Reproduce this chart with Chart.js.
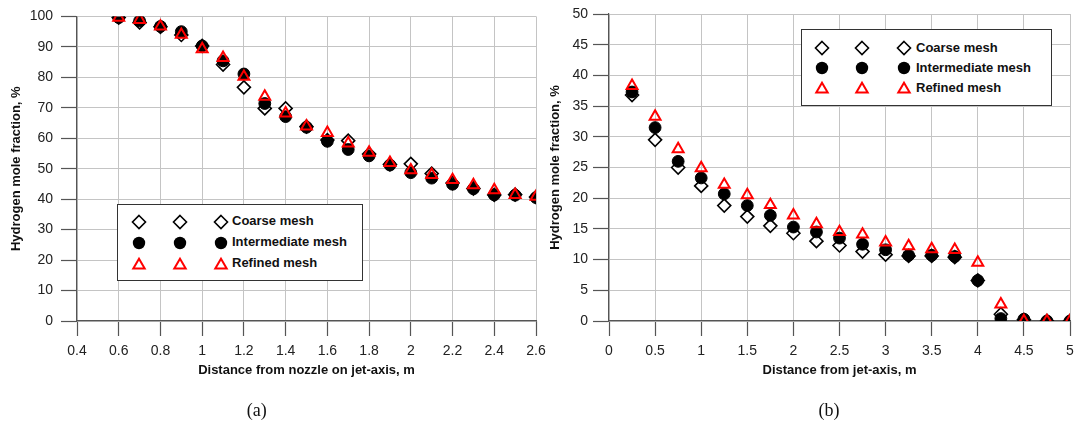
<!DOCTYPE html>
<html>
<head>
<meta charset="utf-8">
<script src="https://cdn.jsdelivr.net/npm/chart.js@4.4.1/dist/chart.umd.min.js"></script>
<style>
  html, body { margin: 0; padding: 0; background: #fff; }
  #wrap { position: relative; width: 1084px; height: 425px; overflow: hidden; background: #fff; }
  canvas { position: absolute; top: 0; }
  .legend { position: absolute; border: 1px solid #333; background: #fff; box-sizing: border-box; }
  .legend svg { position: absolute; overflow: visible; }
  .legend span { position: absolute; font: bold 13px "Liberation Sans", Arial, sans-serif; color: #111; line-height: 16px; white-space: nowrap; }
  .cap { position: absolute; font: 18px "Liberation Serif", "Times New Roman", serif; color: #111; transform: translate(-50%, -50%); white-space: nowrap; }
</style>
</head>
<body>
<div id="wrap">
  <canvas id="cA" width="560" height="425" style="left:0px"></canvas>
  <canvas id="cB" width="560" height="425" style="left:524px"></canvas>
</div>
<script>
// ---------------- data ----------------
const seriesNames = ['Coarse mesh', 'Intermediate mesh', 'Refined mesh'];

// (a) Distance from nozzle on jet-axis, m
const xA = [0.6, 0.7, 0.8, 0.9, 1.0, 1.1, 1.2, 1.3, 1.4, 1.5, 1.6, 1.7, 1.8, 1.9, 2.0, 2.1, 2.2, 2.3, 2.4, 2.5, 2.6];
const coarseA  = [99.6, 98.0, 96.6, 93.9, 90.3, 84.2, 76.7, 69.8, 69.8, 63.8, 59.4, 59.2, 54.8, 51.4, 51.6, 48.4, 45.3, 43.5, 41.4, 41.5, 40.7];
const interA   = [99.6, 98.5, 96.7, 95.0, 90.3, 85.4, 81.1, 71.4, 67.1, 63.6, 59.0, 56.3, 54.2, 51.2, 48.7, 46.9, 44.9, 43.4, 41.4, 41.3, 40.5];
const refinedA = [99.6, 98.9, 96.7, 94.0, 89.3, 86.4, 80.2, 73.7, 68.2, 63.9, 61.8, 58.3, 55.3, 51.9, 49.5, 48.0, 46.3, 44.6, 43.0, 41.4, 40.8];
const xTicksA = [0.4, 0.6, 0.8, 1.0, 1.2, 1.4, 1.6, 1.8, 2.0, 2.2, 2.4, 2.6];
const yTicksA = [0, 10, 20, 30, 40, 50, 60, 70, 80, 90, 100];

// (b) Distance from jet-axis, m
const xB = [0.25, 0.5, 0.75, 1.0, 1.25, 1.5, 1.75, 2.0, 2.25, 2.5, 2.75, 3.0, 3.25, 3.5, 3.75, 4.0, 4.25, 4.5, 4.75, 5.0];
const coarseB  = [36.8, 29.5, 25.0, 22.0, 18.8, 17.0, 15.5, 14.3, 13.0, 12.3, 11.3, 10.8, 10.6, 10.6, 10.4, 6.6, 1.1, 0.2, 0.0, 0.0];
const interB   = [37.3, 31.5, 26.0, 23.3, 20.7, 18.8, 17.2, 15.3, 14.5, 13.5, 12.5, 11.6, 10.7, 10.7, 10.5, 6.6, 0.4, 0.3, 0.0, 0.0];
const refinedB = [38.3, 33.3, 28.0, 24.9, 22.2, 20.5, 18.9, 17.2, 15.8, 14.5, 14.1, 12.8, 12.2, 11.7, 11.6, 9.5, 2.7, 0.0, 0.0, 0.0];
const xTicksB = [0, 0.5, 1, 1.5, 2, 2.5, 3, 3.5, 4, 4.5, 5];
const yTicksB = [0, 5, 10, 15, 20, 25, 30, 35, 40, 45, 50];

const xTitleA = 'Distance from nozzle on jet-axis, m';
const xTitleB = 'Distance from jet-axis, m';
const yTitle = 'Hydrogen mole fraction, %';
const captions = ['(a)', '(b)'];

// ---------------- styles ----------------
Chart.defaults.font.family = '"Liberation Sans", Arial, sans-serif';
Chart.defaults.color = '#222';

const styles = [
  { pointStyle: 'rectRot', pointRadius: 6.5, borderColor: '#000', backgroundColor: '#fff', borderWidth: 1.6, order: 3 },
  { pointStyle: 'circle', pointRadius: 5.9, borderColor: '#000', backgroundColor: '#000', borderWidth: 1, order: 2 },
  { pointStyle: 'triangle', pointRadius: 6.3, borderColor: '#ff0000', backgroundColor: 'rgba(0,0,0,0)', borderWidth: 2, order: 1 }
];

function pts(xs, ys) { return xs.map((x, i) => ({ x: x, y: ys[i] })); }

function makeChart(id, xs, series, xTicks, yTicks, xTitle, cfg) {
  const datasets = series.map((ys, i) => Object.assign({
    label: seriesNames[i],
    data: pts(xs, ys),
    showLine: false,
    pointHoverRadius: styles[i].pointRadius,
    pointBorderWidth: styles[i].borderWidth
  }, styles[i], { pointBackgroundColor: styles[i].backgroundColor, pointBorderColor: styles[i].borderColor }));

  return new Chart(document.getElementById(id), {
    type: 'scatter',
    data: { datasets: datasets },
    options: {
      responsive: false,
      animation: false,
      devicePixelRatio: 1,
      layout: { padding: { left: 0, right: cfg.padRight, top: 14, bottom: 0 } },
      plugins: { legend: { display: false }, tooltip: { enabled: false } },
      scales: {
        x: {
          type: 'linear',
          min: xTicks[0], max: xTicks[xTicks.length - 1],
          afterBuildTicks: s => { s.ticks = xTicks.map(v => ({ value: v })); },
          afterFit: s => { s.height = 104; },
          ticks: { autoSkip: false, maxRotation: 0, padding: 7, font: { size: 14 }, color: '#222',
                   callback: v => String(v) },
          grid: { color: '#c4c4c4', lineWidth: 1, tickLength: 15, tickColor: '#555', tickWidth: 1.2 },
          border: { color: '#555', width: 1.2 },
          title: { display: true, text: xTitle, color: '#111', font: { size: 13, weight: 'bold' },
                   padding: { top: 0, bottom: 47 } }
        },
        y: {
          type: 'linear',
          min: yTicks[0], max: yTicks[yTicks.length - 1],
          afterBuildTicks: s => { s.ticks = yTicks.map(v => ({ value: v })); },
          afterFit: s => { s.width = cfg.yWidth; },
          ticks: { autoSkip: false, padding: cfg.yPad, font: { size: 14 }, color: '#222',
                   callback: v => String(v) },
          grid: { color: '#c4c4c4', lineWidth: 1, tickLength: 16, tickColor: '#555', tickWidth: 1.2 },
          border: { color: '#555', width: 1.2 },
          title: { display: true, text: yTitle, color: '#111', font: { size: 13, weight: 'bold' },
                   padding: { top: cfg.yTitlePad, bottom: 0 } }
        }
      }
    }
  });
}

makeChart('cA', xA, [coarseA, interA, refinedA], xTicksA, yTicksA, xTitleA,
  { padRight: 24, yWidth: 77, yPad: 8, yTitlePad: 9 });
makeChart('cB', xB, [coarseB, interB, refinedB], xTicksB, yTicksB, xTitleB,
  { padRight: 14, yWidth: 85, yPad: 5, yTitlePad: 24 });

// ---------------- legends (Excel-style, three markers per entry) ----------------
function markerSVG(kind, cx, cy) {
  let inner = '';
  if (kind === 0) {
    const r = 6.5;
    inner = '<polygon points="0,' + (-r) + ' ' + r + ',0 0,' + r + ' ' + (-r) + ',0" fill="#fff" stroke="#000" stroke-width="1.6"/>';
  } else if (kind === 1) {
    inner = '<circle cx="0" cy="0" r="6.2" fill="#000"/>';
  } else {
    inner = '<polygon points="0,-5.2 5.7,4.6 -5.7,4.6" fill="none" stroke="#ff0000" stroke-width="2" stroke-linejoin="miter"/>';
  }
  return '<svg width="1" height="1" style="left:' + cx + 'px;top:' + cy + 'px">' + inner + '</svg>';
}

function makeLegend(box) {
  const d = document.createElement('div');
  d.className = 'legend';
  d.style.left = box.left + 'px'; d.style.top = box.top + 'px';
  d.style.width = box.width + 'px'; d.style.height = box.height + 'px';
  let html = '';
  seriesNames.forEach((name, i) => {
    const cy = box.rows[i];
    box.mx.forEach(mx => { html += markerSVG(i, mx, cy); });
    html += '<span style="left:' + box.tx + 'px;top:' + (cy - 8.5) + 'px">' + name + '</span>';
  });
  d.innerHTML = html;
  document.getElementById('wrap').appendChild(d);
}

makeLegend({ left: 117, top: 204, width: 246, height: 77, rows: [16.5, 37.8, 58.8], mx: [20.5, 61.5, 102.5], tx: 114 });
makeLegend({ left: 801, top: 29, width: 251, height: 77, rows: [18, 38, 58], mx: [20, 60, 101.5], tx: 114 });

// captions
[[256.7, 410], [829, 410]].forEach((p, i) => {
  const c = document.createElement('div');
  c.className = 'cap';
  c.style.left = p[0] + 'px'; c.style.top = p[1] + 'px';
  c.textContent = captions[i];
  document.getElementById('wrap').appendChild(c);
});
</script>
</body>
</html>
